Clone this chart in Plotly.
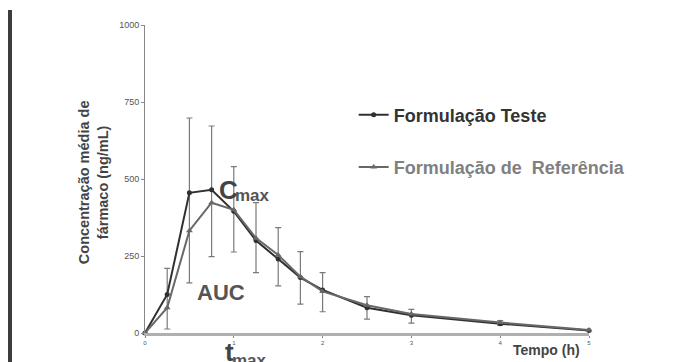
import plotly.graph_objects as go

# Data
tempo = [0, 0.25, 0.5, 0.75, 1, 1.25, 1.5, 1.75, 2, 2.5, 3, 4, 5]
teste = [0, 125, 455, 465, 395, 300, 240, 180, 140, 82, 58, 30, 8]
referencia = [0, 82, 332, 423, 400, 308, 253, 183, 135, 90, 62, 34, 10]
dp_sup = [0, 85, 243, 207, 145, 123, 102, 84, 56, 36, 19, 10, 0]
dp_inf = [0, 112, 292, 217, 132, 104, 87, 86, 71, 37, 26, 5, 0]
x_ticks = [0, 1, 2, 3, 4, 5]
y_ticks = [0, 250, 500, 750, 1000]

FONT = "Liberation Sans, Arial, sans-serif"

fig = go.Figure()
fig.add_trace(go.Scatter(
    x=tempo, y=teste, mode="lines+markers",
    name="<b><span style='color:#333333'>Formulação Teste</span></b>",
    legendgroup="a",
    line=dict(color="#303030", width=2),
    marker=dict(symbol="circle", size=5, color="#303030"),
    error_y=dict(type="data", symmetric=False, array=dp_sup, arrayminus=dp_inf,
                 color="#7a7a7a", thickness=1.2, width=3),
    cliponaxis=False,
))
fig.add_trace(go.Scatter(
    x=tempo, y=referencia, mode="lines+markers",
    name="<b><span style='color:#808080'>Formulação de  Referência</span></b>",
    legendgroup="b",
    line=dict(color="#686868", width=2),
    marker=dict(symbol="triangle-up", size=6, color="#686868"),
    cliponaxis=False,
))

ann = []
def a(text, x, y, size, color, bold=True, angle=0):
    ann.append(dict(text=f"<b>{text}</b>" if bold else text, x=x, y=y,
                    xref="paper", yref="paper", showarrow=False,
                    xanchor="center", yanchor="middle", textangle=angle,
                    font=dict(family=FONT, size=size, color=color)))

a("C", 0.189, 0.464, 26, "#444444")
a("max", 0.243, 0.448, 17, "#555555")
a("AUC", 0.171, 0.13, 22, "#555555")
a("t", 0.191, -0.062, 26, "#444444")
a("max", 0.236, -0.088, 17, "#555555")
a("Tempo (h)", 0.905, -0.055, 14, "#444444")
a("Concentração média de<br>fármaco (ng/mL)", -0.117, 0.49, 14.5, "#444444", angle=-90)

fig.update_layout(
    width=700, height=362,
    margin=dict(l=145, r=111, t=25, b=29),
    paper_bgcolor="white", plot_bgcolor="white",
    font=dict(family=FONT),
    showlegend=True,
    legend=dict(x=0.47, y=0.768, xanchor="left", yanchor="top",
                font=dict(family=FONT, size=18), tracegroupgap=26,
                bgcolor="rgba(0,0,0,0)"),
    xaxis=dict(range=[0, 5], tickvals=x_ticks, showgrid=False, zeroline=False,
               showline=True, linecolor="#b0b0b0", linewidth=3,
               ticks="outside", ticklen=2, tickcolor="#888",
               tickfont=dict(size=6, color="#555")),
    yaxis=dict(range=[0, 1000], tickvals=y_ticks, showgrid=False, zeroline=False,
               showline=True, linecolor="#888888", linewidth=1,
               ticks="outside", ticklen=3, tickcolor="#888",
               tickfont=dict(size=9, color="#555")),
    annotations=ann,
    shapes=[dict(type="rect", xref="paper", yref="paper",
                 x0=(8 - 145) / 444, x1=(12 - 145) / 444,
                 y0=(333 - 362) / 308, y1=(333 - 10) / 308,
                 fillcolor="#3c3c3c", line=dict(width=0))],
)

fig.write_html("out.html")
